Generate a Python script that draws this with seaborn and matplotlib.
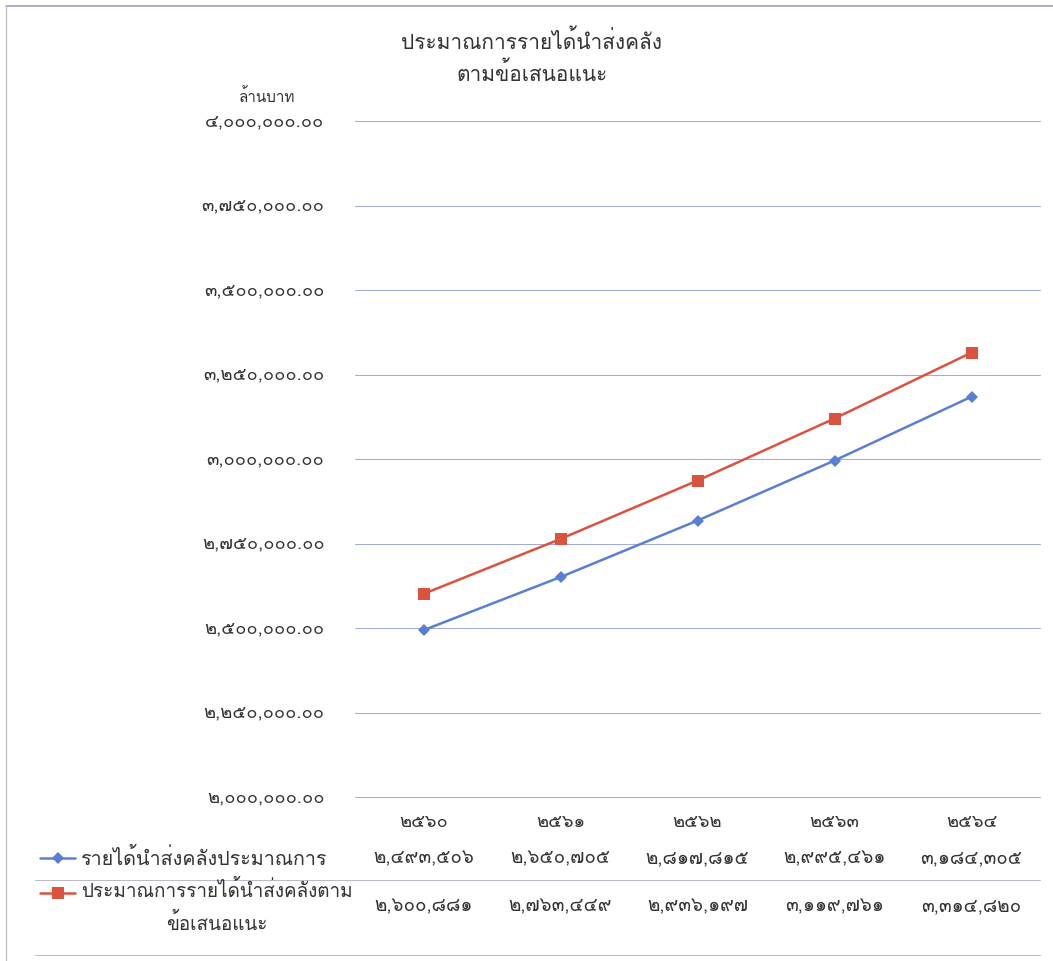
import matplotlib
matplotlib.use("Agg")
import matplotlib.pyplot as plt
from matplotlib import font_manager
from matplotlib.ft2font import FT2Font
from matplotlib.lines import Line2D
import seaborn as sns
import pandas as pd

# --- data -----------------------------------------------------------------
years = ["2560", "2561", "2562", "2563", "2564"]
estimated = [2493506, 2650705, 2817815, 2995461, 3184305]
recommended = [2600881, 2763449, 2936197, 3119761, 3314820]
series_names = [
    "รายได้นำส่งคลังประมาณการ",
    "ประมาณการรายได้นำส่งคลังตาม\nข้อเสนอแนะ",
]
y_ticks = [2000000, 2250000, 2500000, 2750000, 3000000,
           3250000, 3500000, 3750000, 4000000]
title = "ประมาณการรายได้นำส่งคลัง\nตามข้อเสนอแนะ"
unit_label = "ล้านบาท"

THAI_DIGITS = str.maketrans("0123456789", "๐๑๒๓๔๕๖๗๘๙")


def thai_num(s):
    return s.translate(THAI_DIGITS)


# --- fonts: pick any installed family that covers Thai ----------------------
def covers_thai(path):
    try:
        cmap = FT2Font(path).get_charmap()
        return 0x0E01 in cmap and 0x0E52 in cmap
    except Exception:
        return False


thai_families = []
for fe in font_manager.fontManager.ttflist:
    if fe.name not in thai_families and covers_thai(fe.fname):
        thai_families.append(fe.name)

sns.set_theme(style="white")
plt.rcParams["font.family"] = thai_families + ["DejaVu Sans"]

# --- figure -----------------------------------------------------------------
W, H = 1053, 961
fig = plt.figure(figsize=(W / 100, H / 100), dpi=100)


def fx(px):
    return px / W


def fy(py):
    return 1 - py / H


ax = fig.add_axes([fx(355), fy(797), fx(1040) - fx(355), fy(121) - fy(797)])

blue = "#5b7fd0"
red = "#d9533e"
grid = "#a3acd8"
text_c = "#333333"

x_pos = list(range(len(years)))
df = pd.DataFrame({
    "x": x_pos * 2,
    "value": estimated + recommended,
    "series": [series_names[0]] * len(years) + [series_names[1]] * len(years),
})

sns.lineplot(data=df, x="x", y="value", hue="series", style="series",
             palette=[blue, red], markers=["D", "s"], dashes=False,
             markersize=9, linewidth=1.8, markeredgewidth=0,
             legend=False, ax=ax)
# slightly smaller diamonds for the first series
ax.lines[0].set_markersize(6.5)

ax.set_xlim(-0.5, len(years) - 0.5)
ax.set_ylim(y_ticks[0], y_ticks[-1])
ax.set_yticks(y_ticks)
ax.set_yticklabels([thai_num(f"{v:,.2f}") for v in y_ticks])
ax.tick_params(axis="y", length=0, pad=22, labelsize=13.2, labelcolor=text_c)
for lbl in ax.get_yticklabels():
    lbl.set_verticalalignment("center")
ax.set_xticks([])
ax.set_xlabel("")
ax.set_ylabel("")
ax.grid(False)
for sp in ax.spines.values():
    sp.set_visible(False)
for v in y_ticks:
    gl = ax.axhline(v, color=grid, lw=0.75, zorder=0, clip_on=False)
    gl.set_snap(True)

# title and unit
fig.text(fx(532), fy(57), title, ha="center", va="center", fontsize=15,
         color=text_c, linespacing=1.45)
fig.text(fx(267), fy(97), unit_label, ha="center", va="center",
         fontsize=11, color=text_c)

# data table below the plot
tr = matplotlib.transforms.blended_transform_factory(ax.transData, fig.transFigure)
for i, yr in enumerate(years):
    ax.text(i, fy(822), thai_num(yr), transform=tr, ha="center", va="center",
            fontsize=13.2, color=text_c)
    ax.text(i, fy(858), thai_num(f"{estimated[i]:,}"), transform=tr,
            ha="center", va="center", fontsize=13.5, color=text_c)
    ax.text(i, fy(906), thai_num(f"{recommended[i]:,}"), transform=tr,
            ha="center", va="center", fontsize=13.5, color=text_c)

# row labels with legend keys
fig.add_artist(Line2D([fx(40), fx(58), fx(75)], [fy(858)] * 3, color=blue,
                      lw=1.8, marker="D", markersize=6.5, markevery=[1],
                      markeredgewidth=0, transform=fig.transFigure))
fig.add_artist(Line2D([fx(40), fx(58), fx(75)], [fy(893)] * 3, color=red,
                      lw=1.8, marker="s", markersize=9, markevery=[1],
                      markeredgewidth=0, transform=fig.transFigure))
fig.text(fx(81), fy(858), series_names[0], ha="left", va="center",
         fontsize=14.2, color=text_c)
fig.text(fx(81), fy(907), series_names[1], ha="left", va="center",
         fontsize=13.6, color=text_c, multialignment="center", linespacing=1.7)

# table rules and chart border
for y in (880, 955):
    rule = Line2D([fx(35), fx(1040)], [fy(y), fy(y)], color="#b9bcc6",
                  lw=0.75, transform=fig.transFigure)
    rule.set_snap(True)
    fig.add_artist(rule)
fig.add_artist(Line2D([fx(6), fx(1053)], [fy(6), fy(6)], color="#9a9fc0",
                      lw=1.2, transform=fig.transFigure))
fig.add_artist(Line2D([fx(6), fx(6)], [fy(6), fy(961)], color="#c4c4c4",
                      lw=1.0, transform=fig.transFigure))

fig.savefig("out.png", dpi=100, facecolor="white")
